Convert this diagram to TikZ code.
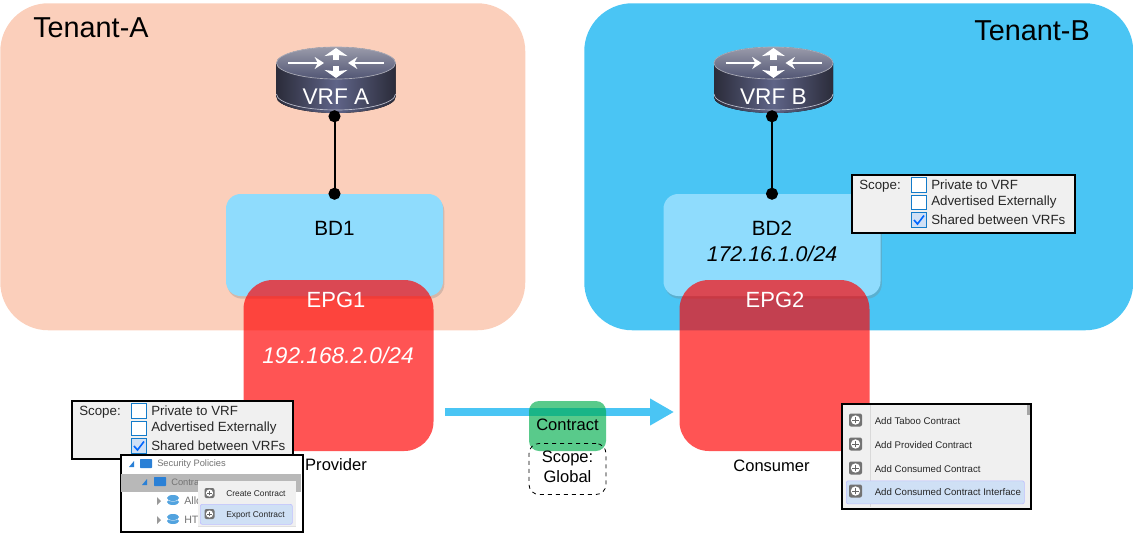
\documentclass[tikz,border=0pt]{standalone}
\usepackage{fontspec}
\setmainfont{Liberation Sans}
\usetikzlibrary{arrows.meta,positioning,shadows,shapes.geometric}
\definecolor{tenantpeach}{HTML}{FBCFBB}
\definecolor{tenantblue}{HTML}{4AC5F4}
\definecolor{bdblue}{HTML}{8FDCFD}
\definecolor{panelgrey}{HTML}{F0F0F0}
\definecolor{hilite}{HTML}{CFE0F5}
\definecolor{folderblue}{HTML}{2A80D6}
\newcommand{\fsz}[1]{\fontsize{#1}{#1}\selectfont}
\newcommand{\routericon}[3]{%
  \begin{scope}[shift={(#1,63)}]
    \fill[left color=routerdark,right color=routerdark,middle color=routermid]
      (-59.5,0) -- (-59.5,34) arc[start angle=180,end angle=0,x radius=59.5,y radius=16] -- (59.5,0) -- cycle;
    \draw[white!60!routermid,line width=.5pt] (-59.5,31) arc[start angle=180,end angle=0,x radius=59.5,y radius=16];
    \fill[top color=routertop,bottom color=routermid!85!black] (0,0) ellipse[x radius=59.5,y radius=16];
    \draw[routertop!80!white,line width=.5pt] (0,0) ellipse[x radius=59.5,y radius=16];
    \draw[routerarrow] (-48,0) -- (-12,0);
    \draw[routerarrow] (48,0) -- (12,0);
    \draw[routerarrow,line width=5pt,-{Stealth[length=6pt,width=17pt,inset=1pt]}] (0,-3) -- (0,-15);
    \draw[routerarrow,line width=5pt,-{Stealth[length=6pt,width=17pt,inset=1pt]}] (0,3) -- (0,15);
  \end{scope}
  \node[routertext] (#2) at (#1,97) {#3};}
\newcommand{\scopepanel}[4]{%
  \begin{scope}[shift={(#1,#2)}]
    \node[panel,fill=panelgrey,sized={#4}{57.5},anchor=north west] (#3) at (0,0) {};
    \node[paneltext] (#3scope) at (8,12) {Scope:};
    \node[chkbox] (#3boxa) at (68,11) {};
    \node[chkbox] (#3boxb) at (68,28.5) {};
    \node[chkbox,fill=hilite] (#3boxc) at (68,46) {};
    \draw[blue!60!cyan,line width=1.2pt] (63,46) -- (66.5,50) -- (73,41.5);
    \node[paneltext] (#3opta) at (80,11) {Private to VRF};
    \node[paneltext] (#3optb) at (80,28.5) {Advertised Externally};
    \node[paneltext] (#3optc) at (80,46) {Shared between VRFs};
  \end{scope}}
\begin{document}
\begin{tikzpicture}[x=0.75pt,y=-0.75pt,
  sized/.style 2 args={minimum width=#1*0.75pt,minimum height=#2*0.75pt},
  tenant/.style={rectangle,rounded corners=36pt,inner sep=0pt},
  bdbox/.style={rectangle,rounded corners=11pt,fill=bdblue,inner sep=0pt,sized={217}{102},
    drop shadow={shadow xshift=1pt,shadow yshift=-2pt,opacity=.3}},
  epgbox/.style={rectangle,rounded corners=22pt,fill=red,fill opacity=.67,inner sep=0pt,sized={190}{171}},
  title/.style={font=\fsz{21.6},inner sep=0pt},
  midtext/.style={font=\fsz{15.5},inner sep=0pt,align=center},
  whitetext/.style={font=\fsz{16.5},text=white,inner sep=0pt},
  smalltext/.style={font=\fsz{12.4},inner sep=0pt,align=center},
  routertext/.style={font=\fsz{17},text=white,inner sep=0pt,minimum height=38*0.75pt},
  routerarrow/.style={white,line width=2pt,-{Stealth[length=7pt,width=9pt]}},
  panel/.style={rectangle,draw=black,line width=1.6pt,inner sep=0pt},
  paneltext/.style={font=\fsz{10},text=black!85,anchor=west,inner sep=0pt},
  chkbox/.style={rectangle,draw=cyan!60!blue,line width=.9pt,fill=white,minimum size=11pt,inner sep=0pt},
  menutext/.style={font=\fsz{7.25},text=black!85,anchor=west,inner sep=0pt},
  poptext/.style={font=\fsz{6.3},text=black!85,anchor=west,inner sep=0pt},
  treetext/.style={font=\fsz{7},text=black!55,anchor=west,inner sep=0pt},
  addicon/.style={rectangle,rounded corners=1.5pt,fill=black!55,minimum size=#1*0.75pt,inner sep=0pt,
    path picture={\fill[white] (path picture bounding box.center) circle[radius=#1*0.27pt];
      \draw[black!60,line width=.7pt] ([xshift=-#1*0.18pt]path picture bounding box.center) -- ([xshift=#1*0.18pt]path picture bounding box.center)
        ([yshift=-#1*0.18pt]path picture bounding box.center) -- ([yshift=#1*0.18pt]path picture bounding box.center);}},
  hilitebar/.style={rectangle,rounded corners=1.5pt,fill=hilite,draw=blue!25,line width=.5pt,inner sep=0pt},
  flow/.style={draw=tenantblue,line width=6pt,-{Triangle[length=18pt,width=19pt]}},
  dotline/.style={line width=1.5pt,{Circle[length=9pt]}-{Circle[length=9pt]},shorten <=-4.5pt,shorten >=-4.5pt}
]
\definecolor{routerdark}{HTML}{2B2C3A}
\definecolor{routermid}{HTML}{5F6488}
\definecolor{routertop}{HTML}{9A9BAA}
\useasboundingbox (0,0) rectangle (1133,533);

% tenants
\node[tenant,fill=tenantpeach,sized={525}{327},anchor=north west] (tenanta) at (0,3) {};
\node[tenant,fill=tenantblue,sized={549}{327},anchor=north west] (tenantb) at (584,3) {};
\node[title,anchor=west] (titlea) at (33,28) {Tenant-A};
\node[title,anchor=east] (titleb) at (1090,31) {Tenant-B};

% routers
\routericon{336}{vrfa}{VRF A}
\routericon{773.5}{vrfb}{VRF B}

% bridge domains
\node[bdbox] (bda) at (334.5,245) {};
\node[bdbox] (bdb) at (772,245) {};
\node[midtext] (bdatext) at (334.5,228) {BD1};
\node[midtext] (bdbtext) at (772,228) {BD2};
\node[midtext,font=\fsz{16}\itshape] (bdbnet) at (772,254) {172.16.1.0/24};
\draw[dotline] (vrfa.south-|bda.north) -- (bda.north);
\draw[dotline] (vrfb.south-|bdb.north) -- (bdb.north);

% contract arrow goes under the green box
\draw[flow] (445,412) -- (674,412);

% epgs
\node[epgbox] (epga) at (338.5,365.5) {};
\node[epgbox] (epgb) at (774.5,365.5) {};
\node[whitetext] (epgatext) at (336,300) {EPG1};
\node[whitetext] (epgbtext) at (775,300) {EPG2};
\node[whitetext,font=\fsz{17}\itshape] (epganet) at (338,355) {192.168.2.0/24};
\node[smalltext] (provider) at (336,465) {Provider};
\node[smalltext] (consumer) at (771.5,466) {Consumer};

% contract
\node[rectangle,rounded corners=7.5pt,fill={rgb,255:red,0;green,173;blue,77},fill opacity=.65,inner sep=0pt,sized={77}{50}] (contract) at (567.5,426) {};
\node[smalltext] (contracttext) at (567.5,425) {Contract};
\node[rectangle,rounded corners=7.5pt,draw,dashed,line width=.6pt,inner sep=0pt,sized={77}{51}] (scopebox) at (567.5,469) {};
\node[smalltext] (scopetext) at (567.5,458) {Scope:};
\node[smalltext] (globaltext) at (567.5,477) {Global};

% scope panels
\scopepanel{71}{400}{scopea}{221}
\scopepanel{851}{174}{scopeb}{223}

% security policies tree
\node[panel,fill=white,sized={182}{77},anchor=north west] (tree) at (120,454) {};
\fill[black!28] (121,474) rectangle (301,492);
\fill[folderblue] (129,467) -- (134,461) -- (134,467) -- cycle;
\fill[folderblue] (142,485) -- (147,479) -- (147,485) -- cycle;
\fill[folderblue,rounded corners=.5pt] (140,459) rectangle (152,468);
\fill[folderblue,rounded corners=.5pt] (154,477) rectangle (166,486);
\fill[black!40] (157,497) -- (161,501) -- (157,505) -- cycle;
\fill[black!40] (157,516) -- (161,520) -- (157,524) -- cycle;
\foreach \rowy in {501,520}{
  \fill[cyan!70!blue!70] (173,\rowy+1) ellipse[x radius=6,y radius=3];
  \fill[white] (173,\rowy-1) ellipse[x radius=5,y radius=1.5];
  \fill[cyan!70!blue!70] (173,\rowy-3) ellipse[x radius=6,y radius=3];}
\node[treetext] (treetop) at (157,464) {Security Policies};
\node[treetext] (treecontract) at (171,482) {Contra};
\node[treetext,font=\fsz{8}] (treeallow) at (184,501) {Allo};
\node[treetext,font=\fsz{8}] (treehttp) at (184,520) {HT};
\node[rectangle,fill=panelgrey,inner sep=0pt,sized={98}{45},anchor=north west,drop shadow={shadow xshift=0pt,shadow yshift=-.5pt,opacity=.25}] (popup) at (198,481) {};
\node[hilitebar,sized={92}{20},anchor=north west] (popexportbar) at (200,504) {};
\node[addicon=10] (popicona) at (209.5,493) {};
\node[addicon=10] (popiconb) at (209.5,514) {};
\node[poptext] (popcreate) at (226,494) {Create Contract};
\node[poptext] (popexport) at (226,515) {Export Contract};

% add contract menu
\node[panel,fill=panelgrey,sized={189}{105},anchor=north west] (addmenu) at (841,403) {};
\fill[black!35] (1027,405) rectangle (1030,415);
\draw[black!15,line width=.5pt] (870,405) -- (870,507);
\node[hilitebar,sized={178}{23},anchor=north west] (addbar) at (846,480.5) {};
\foreach \rowy/\rowname/\rowtext in {421/taboo/Add Taboo Contract,445/provided/Add Provided Contract,469/consumed/Add Consumed Contract,492/iface/Add Consumed Contract Interface}{
  \node[addicon=13] (icon\rowname) at (855.5,\rowy-1) {};
  \node[menutext] (text\rowname) at (874.5,\rowy) {\rowtext};}
\end{tikzpicture}
\end{document}
